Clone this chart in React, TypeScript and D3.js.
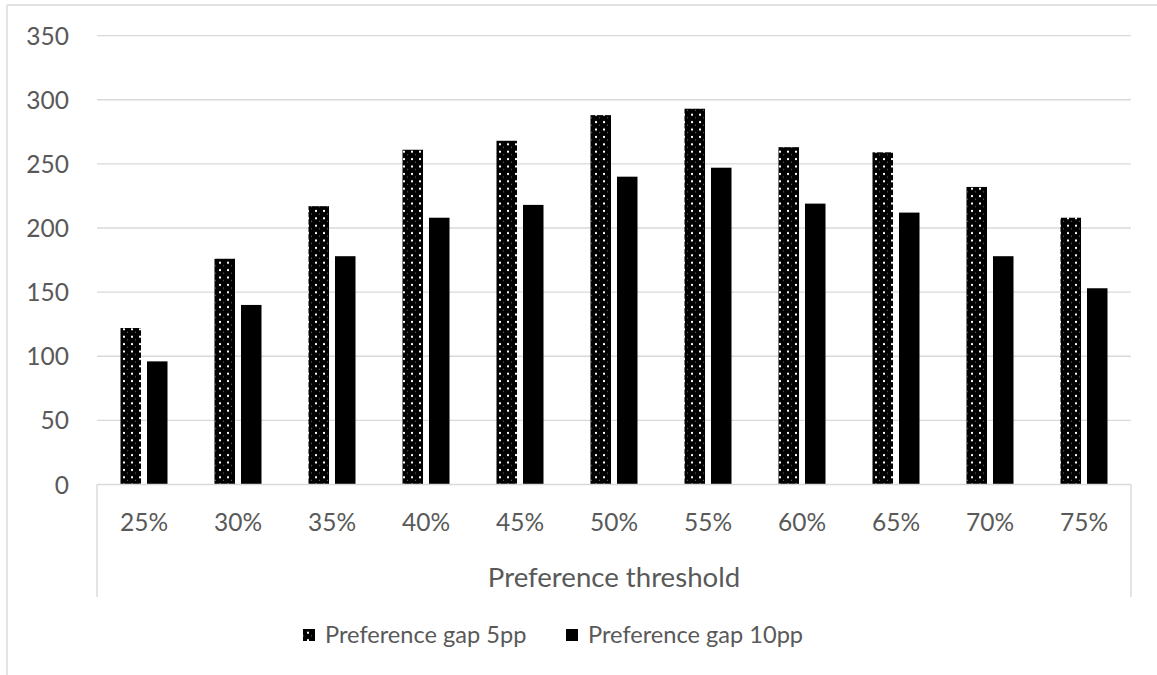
import React from "react";
import * as d3 from "d3";

// Category labels along the x axis (preference threshold)
const categories = ["25%", "30%", "35%", "40%", "45%", "50%", "55%", "60%", "65%", "70%", "75%"];
// Series values
const gap5pp = [122, 176, 217, 261, 268, 288, 293, 263, 259, 232, 208];
const gap10pp = [96, 140, 178, 208, 218, 240, 247, 219, 212, 178, 153];
const seriesNames = ["Preference gap 5pp", "Preference gap 10pp"];
const yTicks = [0, 50, 100, 150, 200, 250, 300, 350];
const xTitle = "Preference threshold";

const W = 1157;
const H = 675;
const plotLeft = 97;
const plotRight = 1131;
const plotTop = 35.6;
const plotBottom = 484.5;

const FONT = "Lato, 'Open Sans', sans-serif";
const TEXT = "#595959";
const GRID = "#d9d9d9";

export default function App() {
  const x = d3
    .scaleBand<string>()
    .domain(categories)
    .range([plotLeft, plotRight])
    .paddingInner(0.5)
    .paddingOuter(0.25);

  const inner = d3
    .scaleBand<number>()
    .domain([0, 1])
    .range([0, x.bandwidth()])
    .paddingInner(0.226)
    .paddingOuter(0);

  const y = d3.scaleLinear().domain([0, 350]).range([plotBottom, plotTop]);

  const series = [gap5pp, gap10pp];
  const fills = ["url(#dots)", "#000"];

  return (
    <svg
      width={W}
      height={H}
      style={{ position: "absolute", left: 0, top: 0, background: "#fff" }}
      fontFamily={FONT}
    >
      <defs>
        <pattern id="dots" patternUnits="userSpaceOnUse" width={8} height={7.4}>
          <rect width={8} height={7.4} fill="#000" />
          <rect x={3} y={2.7} width={2} height={2} fill="#fff" />
          <rect x={7.2} y={6.3} width={0.8} height={0.8} fill="#bbb" />
        </pattern>
      </defs>

      {/* chart frame edges */}
      <line x1={7} x2={W} y1={5} y2={5} stroke={GRID} strokeWidth={1.4} />
      <line x1={7} x2={7} y1={5} y2={H} stroke={GRID} strokeWidth={1.4} />

      {/* gridlines and value labels */}
      {yTicks.map((t) => (
        <g key={t}>
          {t > 0 && (
            <line x1={plotLeft} x2={plotRight} y1={y(t)} y2={y(t)} stroke={GRID} strokeWidth={1.4} />
          )}
          <text x={69} y={y(t) + 9} textAnchor="end" fontSize={24.5} fill={TEXT}>
            {t}
          </text>
        </g>
      ))}

      {/* bars */}
      {series.map((vals, si) =>
        vals.map((v, i) => (
          <rect
            key={`${si}-${i}`}
            x={(x(categories[i]) as number) + (inner(si) as number)}
            y={y(v)}
            width={inner.bandwidth()}
            height={y(0) - y(v)}
            fill={fills[si]}
          />
        ))
      )}

      {/* category axis with grouping box */}
      <line x1={plotLeft} x2={plotRight} y1={y(0)} y2={y(0)} stroke={GRID} strokeWidth={1.4} />
      <line x1={plotLeft} x2={plotLeft} y1={y(0)} y2={597} stroke={GRID} strokeWidth={1.4} />
      <line x1={plotRight} x2={plotRight} y1={y(0)} y2={597} stroke={GRID} strokeWidth={1.4} />
      {categories.map((c) => (
        <text
          key={c}
          x={(x(c) as number) + x.bandwidth() / 2}
          y={531}
          textAnchor="middle"
          fontSize={24.5}
          fill={TEXT}
        >
          {c}
        </text>
      ))}
      <text x={(plotLeft + plotRight) / 2} y={587} textAnchor="middle" fontSize={27.6} fill={TEXT}>
        {xTitle}
      </text>

      {/* legend */}
      {seriesNames.map((name, i) => {
        const lx = i === 0 ? 303 : 566;
        return (
          <g key={name}>
            <rect x={lx} y={629} width={12} height={12} fill={fills[i]} />
            <text x={lx + 22} y={643} fontSize={23.6} fill={TEXT}>
              {name}
            </text>
          </g>
        );
      })}
    </svg>
  );
}
